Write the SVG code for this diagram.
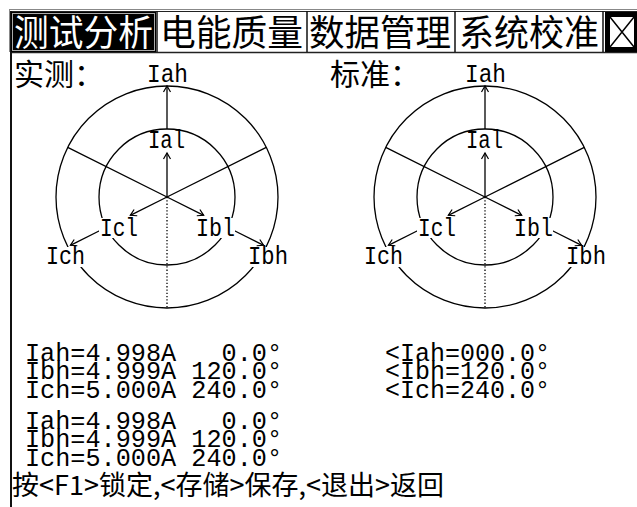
<svg xmlns="http://www.w3.org/2000/svg" width="637" height="507" viewBox="0 0 637 507">
<style>
.cjk{font-family:"Noto Sans CJK SC","Noto Sans CJK JP",sans-serif;fill:#000}
.mono{font-family:"Liberation Mono","DejaVu Sans Mono",monospace;fill:#000}
.ln{stroke:#000;stroke-width:1.3;fill:none}
.dot{stroke:#000;stroke-width:1.3;fill:none;stroke-dasharray:1.3 2}
.arr{stroke:#000;stroke-width:1.3;fill:none;marker-end:url(#arr)}
.mask{fill:#fff;stroke:none}
.sep{stroke:#111;stroke-width:1.5}
</style>
<defs>
<marker id="arr" viewBox="-8 -5 10 10" refX="0" refY="0" markerWidth="10" markerHeight="10" markerUnits="userSpaceOnUse" orient="auto">
<path d="M-6,-3.5 L0,0 L-6,3.5" fill="none" stroke="#000" stroke-width="1.2"/>
</marker>
<g id="dial">
<circle cx="167" cy="197" r="111" class="ln"/>
<circle cx="167" cy="197" r="68" class="ln"/>
<g class="connectors">
<line x1="167" y1="197" x2="67.7" y2="147.4" class="ln"/>
<line x1="167" y1="197" x2="266.3" y2="147.4" class="ln"/>
<line x1="167" y1="197" x2="167" y2="308" class="dot"/>
<line x1="167" y1="197" x2="167" y2="153" class="arr"/>
<line x1="167" y1="129" x2="167" y2="86" class="arr"/>
<line x1="167" y1="197" x2="130.3" y2="215.3" class="arr"/>
<line x1="100" y1="230.5" x2="70.4" y2="245.3" class="arr"/>
<line x1="167" y1="197" x2="203.7" y2="215.3" class="arr"/>
<line x1="234" y1="230.5" x2="263.6" y2="245.3" class="arr"/>
</g>
<rect class="mask" x="99" y="218" width="40" height="20"/>
<rect class="mask" x="194" y="218" width="41" height="20"/>
<rect class="mask" x="44" y="247" width="42" height="20"/>
<rect class="mask" x="247" y="247" width="42" height="20"/>
<text class="mono" x="147" y="82" font-size="26" textLength="41" lengthAdjust="spacingAndGlyphs">Iah</text>
<text class="mono" x="148" y="148" font-size="26" textLength="37" lengthAdjust="spacingAndGlyphs">Ial</text>
<text class="mono" x="100" y="236" font-size="26" textLength="38" lengthAdjust="spacingAndGlyphs">Icl</text>
<text class="mono" x="196" y="236" font-size="26" textLength="39" lengthAdjust="spacingAndGlyphs">Ibl</text>
<text class="mono" x="46" y="264" font-size="26" textLength="39" lengthAdjust="spacingAndGlyphs">Ich</text>
<text class="mono" x="248" y="264" font-size="26" textLength="40" lengthAdjust="spacingAndGlyphs">Ibh</text>
</g>
</defs>
<rect width="637" height="507" fill="#fff"/>
<g id="frame">
<line x1="9" y1="9.5" x2="637" y2="9.5" stroke="#888" stroke-width="1"/>
<line x1="9.5" y1="9" x2="9.5" y2="52" stroke="#888" stroke-width="1"/>
<line x1="11" y1="11.5" x2="637" y2="11.5" stroke="#222" stroke-width="1"/>
<line x1="10" y1="52.5" x2="637" y2="52.5" stroke="#222" stroke-width="1.5"/>
<line x1="11" y1="11" x2="11" y2="507" stroke="#111" stroke-width="2"/>
</g>
<g id="tabs">
<g id="tab-1">
<rect x="11" y="12" width="145" height="40" fill="#000"/>
<rect x="12.5" y="13.5" width="142" height="37" fill="none" stroke="#aaa" stroke-width="1"/>
<text class="cjk" x="14" y="46" font-size="36" textLength="139" lengthAdjust="spacingAndGlyphs" style="fill:#fff">测试分析</text>
</g>
<g id="tab-2">
<line x1="157" y1="11" x2="157" y2="52" class="sep"/>
<text class="cjk" x="160" y="46" font-size="36" textLength="143" lengthAdjust="spacingAndGlyphs">电能质量</text>
</g>
<g id="tab-3">
<line x1="307" y1="11" x2="307" y2="52" class="sep"/>
<text class="cjk" x="309" y="46" font-size="36" textLength="142" lengthAdjust="spacingAndGlyphs">数据管理</text>
</g>
<g id="tab-4">
<line x1="455" y1="11" x2="455" y2="52" class="sep"/>
<text class="cjk" x="459" y="46" font-size="36" textLength="140" lengthAdjust="spacingAndGlyphs">系统校准</text>
</g>
<g id="tab-5">
<line x1="603" y1="11" x2="603" y2="52" class="sep"/>
<rect x="605" y="12" width="32" height="40" fill="#000"/>
<rect x="610" y="17" width="24" height="30" fill="#fff"/>
<path d="M610,17 L634,47 M634,17 L610,47" stroke="#000" stroke-width="1.5"/>
</g>
</g>
<g id="measured">
<text class="cjk" x="14" y="85" font-size="30" textLength="90" lengthAdjust="spacingAndGlyphs">实测：</text>
<use href="#dial"/>
</g>
<g id="standard">
<text class="cjk" x="330" y="85" font-size="30" textLength="90" lengthAdjust="spacingAndGlyphs">标准：</text>
<use href="#dial" transform="translate(318,0)"/>
</g>
<g id="readings" class="mono" font-size="26">
<text class="mono" x="25" y="361" textLength="257" lengthAdjust="spacingAndGlyphs" xml:space="preserve">Iah=4.998A   0.0°</text>
<text class="mono" x="25" y="379" textLength="257" lengthAdjust="spacingAndGlyphs" xml:space="preserve">Ibh=4.999A 120.0°</text>
<text class="mono" x="25" y="398" textLength="257" lengthAdjust="spacingAndGlyphs" xml:space="preserve">Ich=5.000A 240.0°</text>
<text class="mono" x="25" y="429" textLength="257" lengthAdjust="spacingAndGlyphs" xml:space="preserve">Iah=4.998A   0.0°</text>
<text class="mono" x="25" y="447" textLength="257" lengthAdjust="spacingAndGlyphs" xml:space="preserve">Ibh=4.999A 120.0°</text>
<text class="mono" x="25" y="466" textLength="257" lengthAdjust="spacingAndGlyphs" xml:space="preserve">Ich=5.000A 240.0°</text>
<text class="mono" x="385" y="361" textLength="165" lengthAdjust="spacingAndGlyphs">&lt;Iah=000.0°</text>
<text class="mono" x="385" y="379" textLength="165" lengthAdjust="spacingAndGlyphs">&lt;Ibh=120.0°</text>
<text class="mono" x="385" y="398" textLength="165" lengthAdjust="spacingAndGlyphs">&lt;Ich=240.0°</text>
</g>
<g id="footer">
<text class="cjk" x="12" y="495" font-size="27" textLength="432" lengthAdjust="spacingAndGlyphs">按&lt;F1&gt;锁定,&lt;存储&gt;保存,&lt;退出&gt;返回</text>
</g>
</svg>
